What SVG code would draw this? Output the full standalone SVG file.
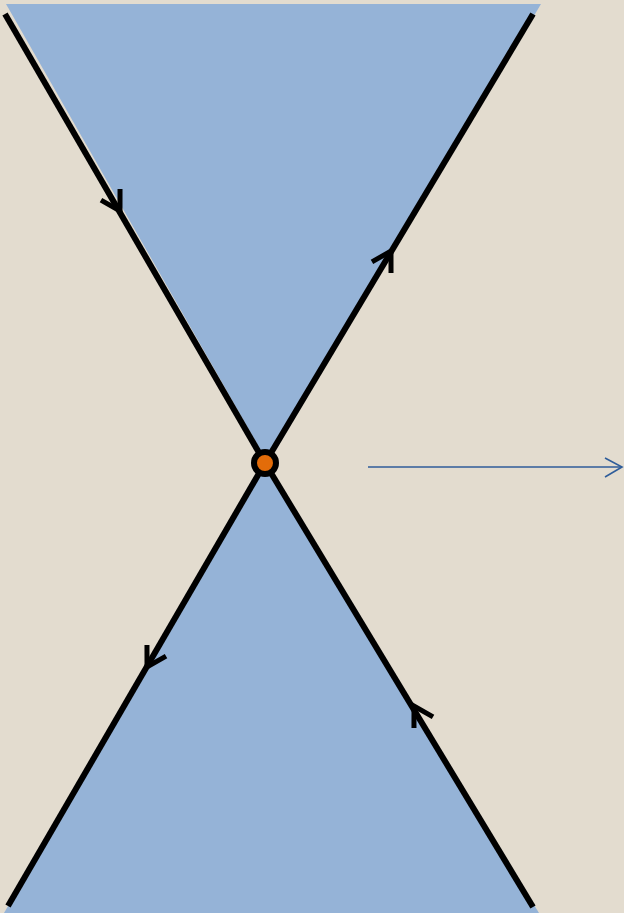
<svg xmlns="http://www.w3.org/2000/svg" width="624" height="913" viewBox="0 0 624 913">
  <style>
    .cone { fill: #95b3d7; }
    .ray { stroke: #000; stroke-width: 6; fill: none; }
    .chev { stroke: #000; stroke-width: 5; fill: none; stroke-linejoin: miter; }
    .axis { stroke: #2f5d9a; stroke-width: 1.6; fill: none; }
  </style>
  <defs>
    <path id="chev" d="M-19,-11 L0,0 L-19,11"/>
  </defs>
  <rect x="0" y="0" width="624" height="913" fill="#e3dccf"/>
  <g id="upper-cone"><polygon class="cone" points="6,4 541,4 268,463"/></g>
  <g id="lower-cone"><polygon class="cone" points="265,463 539,913 4,913"/></g>
  <g id="connectors">
    <line class="ray" x1="5" y1="14" x2="265" y2="463"/>
    <line class="ray" x1="533" y1="14" x2="265" y2="463"/>
    <line class="ray" x1="265" y1="463" x2="8" y2="906"/>
    <line class="ray" x1="265" y1="463" x2="533" y2="907"/>
    <use href="#chev" class="chev" transform="translate(120,211) rotate(60)"/>
    <use href="#chev" class="chev" transform="translate(391,251) rotate(-60)"/>
    <use href="#chev" class="chev" transform="translate(147,667) rotate(120)"/>
    <use href="#chev" class="chev" transform="translate(414,706) rotate(-120)"/>
    <line class="axis" x1="368" y1="467" x2="622" y2="467"/>
    <path class="axis" d="M605,458 L622,467 L605,477"/>
  </g>
  <g id="fixed-point">
    <circle cx="265" cy="463" r="11" fill="#e36c09" stroke="#000" stroke-width="6"/>
  </g>
</svg>
